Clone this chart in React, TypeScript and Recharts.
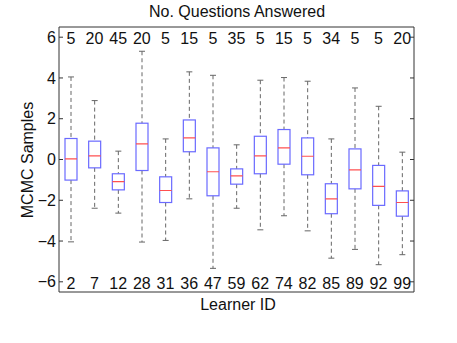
import { ComposedChart, Bar, XAxis, YAxis } from "recharts";

const LEARNER_IDS = ["2", "7", "12", "28", "31", "36", "47", "59", "62", "74", "82", "85", "89", "92", "99"];
const QUESTION_COUNTS = [5, 20, 45, 20, 5, 15, 5, 35, 5, 15, 5, 34, 5, 5, 20];
const WHISKER_HI = [4.05, 2.89, 0.41, 5.31, 1.01, 4.3, 4.13, 0.72, 3.89, 4.02, 3.84, 1.01, 3.51, 2.61, 0.36];
const Q3 = [1.03, 0.9, -0.7, 1.78, -0.85, 1.94, 0.57, -0.46, 1.14, 1.47, 1.06, -1.19, 0.52, -0.29, -1.54];
const MEDIAN = [0.03, 0.18, -1.09, 0.77, -1.52, 1.06, -0.6, -0.8, 0.18, 0.57, 0.16, -1.93, -0.51, -1.32, -2.11];
const Q1 = [-1.01, -0.41, -1.49, -0.54, -2.11, 0.38, -1.78, -1.21, -0.7, -0.23, -0.75, -2.66, -1.44, -2.25, -2.78];
const WHISKER_LO = [-4.04, -2.39, -2.63, -4.05, -3.97, -1.93, -5.34, -2.39, -3.45, -2.76, -3.5, -4.84, -4.41, -5.16, -4.67];
const Y_TICKS = [-6, -4, -2, 0, 2, 4, 6];

const data = LEARNER_IDS.map((id, i) => ({
  id,
  count: QUESTION_COUNTS[i],
  lo: WHISKER_LO[i],
  q1: Q1[i],
  med: MEDIAN[i],
  q3: Q3[i],
  hi: WHISKER_HI[i],
}));

const FONT = "'Liberation Sans', Arial, Helvetica, sans-serif";
const TEXT = "#111";
const FRAME = "#333";

function BoxShape(props: any) {
  const { x, y, width, height, payload } = props;
  const top = Math.min(y, y + height);
  const span = Math.abs(height);
  const ppu = span / (payload.hi - payload.lo);
  const py = (v: number) => top + (payload.hi - v) * ppu;
  const cx = x + width / 2;
  const whisk = { stroke: "#666", strokeWidth: 1 };
  return (
    <g>
      <line x1={cx} x2={cx} y1={py(payload.hi)} y2={py(payload.q3)} {...whisk} strokeDasharray="4 3" />
      <line x1={cx} x2={cx} y1={py(payload.q1)} y2={py(payload.lo)} {...whisk} strokeDasharray="4 3" />
      <line x1={cx - 3} x2={cx + 3} y1={py(payload.hi)} y2={py(payload.hi)} {...whisk} />
      <line x1={cx - 3} x2={cx + 3} y1={py(payload.lo)} y2={py(payload.lo)} {...whisk} />
      <rect
        x={x}
        y={py(payload.q3)}
        width={width}
        height={py(payload.q1) - py(payload.q3)}
        fill="none"
        stroke="#6a6aff"
        strokeWidth={1.2}
      />
      <line x1={x} x2={x + width} y1={py(payload.med)} y2={py(payload.med)} stroke="#ff5050" strokeWidth={1.2} />
    </g>
  );
}

const fmt = (v: number) => (v < 0 ? "\u2212" + Math.abs(v) : String(v));

function LeftTick({ x, y, payload }: any) {
  return (
    <g>
      <line x1={x} x2={x + 4} y1={y} y2={y} stroke={FRAME} />
      <text x={x - 3} y={y} dy="0.35em" textAnchor="end" fontSize={16} fontFamily={FONT} fill={TEXT}>
        {fmt(payload.value)}
      </text>
    </g>
  );
}

function RightTick({ x, y }: any) {
  return <line x1={x - 4} x2={x} y1={y} y2={y} stroke={FRAME} />;
}

function IdTick({ x, y, payload }: any) {
  return (
    <text x={x} y={y - 3} textAnchor="middle" fontSize={16} fontFamily={FONT} fill={TEXT}>
      {payload.value}
    </text>
  );
}

function CountTick({ x, y, index }: any) {
  return (
    <text x={x} y={y + 17} textAnchor="middle" fontSize={16} fontFamily={FONT} fill={TEXT}>
      {QUESTION_COUNTS[index]}
    </text>
  );
}

export default function App() {
  return (
    <div style={{ position: "absolute", left: 0, top: 0, width: 457, height: 343, background: "#fff" }}>
      <ComposedChart width={457} height={343} data={data} margin={{ top: 0, right: 0, bottom: 0, left: 0 }}>
        <XAxis
          dataKey="id"
          height={51}
          interval={0}
          tickSize={0}
          tickMargin={0}
          tickLine={false}
          axisLine={{ stroke: FRAME }}
          tick={IdTick}
        />
        <XAxis
          xAxisId="top"
          orientation="top"
          dataKey="id"
          height={27}
          interval={0}
          tickSize={0}
          tickMargin={0}
          tickLine={false}
          axisLine={{ stroke: FRAME }}
          tick={CountTick}
        />
        <YAxis
          type="number"
          width={59}
          domain={[-6.5, 6.5]}
          ticks={Y_TICKS}
          allowDataOverflow
          tickSize={0}
          tickMargin={0}
          tickLine={false}
          axisLine={{ stroke: FRAME }}
          tick={LeftTick}
        />
        <YAxis
          yAxisId="r"
          orientation="right"
          type="number"
          width={43}
          domain={[-6.5, 6.5]}
          ticks={Y_TICKS}
          allowDataOverflow
          tickSize={0}
          tickMargin={0}
          tickLine={false}
          axisLine={{ stroke: FRAME }}
          tick={RightTick}
        />
        <Bar dataKey={(d: any) => [d.lo, d.hi]} barSize={12} shape={BoxShape} isAnimationActive={false} />
        <text x={237} y={16.5} textAnchor="middle" fontSize={16} fontFamily={FONT} fill={TEXT}>
          No. Questions Answered
        </text>
        <text x={238} y={309.5} textAnchor="middle" fontSize={16} fontFamily={FONT} fill={TEXT}>
          Learner ID
        </text>
        <text
          x={33}
          y={160}
          textAnchor="middle"
          fontSize={16}
          fontFamily={FONT}
          fill={TEXT}
          transform="rotate(-90 33 160)"
        >
          MCMC Samples
        </text>
      </ComposedChart>
    </div>
  );
}
